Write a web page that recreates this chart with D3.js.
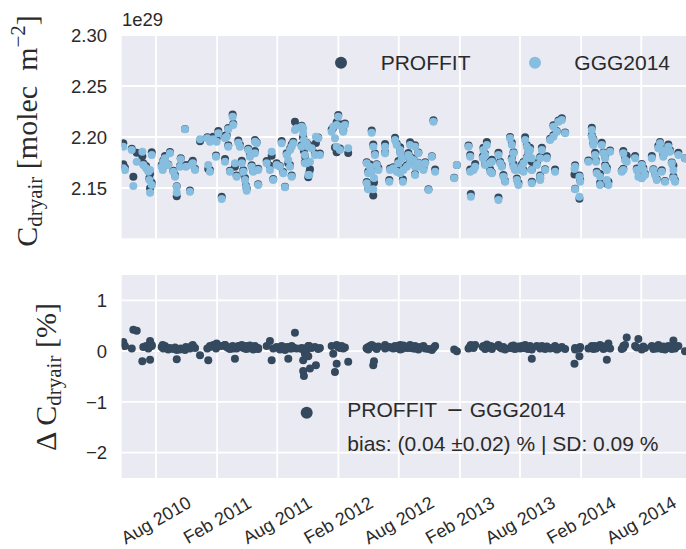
<!DOCTYPE html>
<html><head><meta charset="utf-8">
<script src="https://cdn.jsdelivr.net/npm/d3@7"></script>
<style>body{margin:0;background:#fff}svg{display:block}text{white-space:pre}</style>
</head><body>
<svg id="c" width="686" height="549"></svg>
<script>
// observation time (decimal year)
const obsYear = [2010.311,2010.311,2010.325,2010.381,2010.394,2010.422,2010.468,2010.476,2010.499,2010.518,2010.532,2010.526,2010.546,2010.532,2010.546,2010.628,2010.641,2010.655,2010.696,2010.682,2010.636,2010.724,2010.738,2010.752,2010.752,2010.785,2010.779,2010.820,2010.861,2010.828,2010.875,2010.903,2010.884,2010.944,2011.004,2011.026,2011.012,2011.026,2011.053,2011.081,2011.095,2011.076,2011.123,2011.150,2011.164,2011.177,2011.213,2011.218,2011.150,2011.191,2011.177,2011.232,2011.246,2011.260,2011.274,2011.288,2011.301,2011.315,2011.323,2011.329,2011.342,2011.356,2011.370,2011.383,2011.397,2011.411,2011.397,2011.424,2011.424,2011.494,2011.521,2011.548,2011.535,2011.576,2011.603,2011.617,2011.630,2011.645,2011.659,2011.672,2011.686,2011.700,2011.713,2011.727,2011.741,2011.782,2011.795,2011.782,2011.809,2011.823,2011.837,2011.686,2011.700,2011.795,2011.801,2011.823,2011.837,2011.865,2011.851,2011.809,2011.892,2011.900,2011.933,2011.919,2011.845,2012.030,2012.043,2012.071,2012.084,2012.057,2012.112,2012.125,2012.139,2012.071,2012.098,2012.166,2012.359,2012.318,2012.331,2012.345,2012.359,2012.318,2012.331,2012.372,2012.372,2012.386,2012.400,2012.414,2012.378,2012.469,2012.469,2012.504,2012.551,2012.565,2012.593,2012.607,2012.593,2012.579,2012.510,2012.537,2012.565,2012.593,2012.620,2012.648,2012.675,2012.702,2012.615,2012.675,2012.716,2012.743,2012.661,2012.675,2012.716,2012.716,2012.743,2012.757,2012.799,2012.785,2012.826,2012.854,2012.867,2012.881,2013.038,2013.060,2013.156,2013.170,2013.170,2013.197,2013.211,2013.175,2013.279,2013.293,2013.307,2013.274,2013.293,2013.349,2013.335,2013.403,2013.335,2013.349,2013.403,2013.417,2013.431,2013.444,2013.458,2013.499,2013.513,2013.527,2013.513,2013.527,2013.541,2013.555,2013.568,2013.582,2013.596,2013.609,2013.623,2013.637,2013.650,2013.664,2013.678,2013.637,2013.609,2013.678,2013.678,2013.720,2013.747,2013.747,2013.761,2013.747,2013.788,2013.802,2013.829,2013.856,2013.884,2013.856,2013.898,2013.926,2013.953,2013.870,2014.035,2014.030,2014.071,2014.077,2014.035,2014.071,2014.145,2014.173,2014.173,2014.186,2014.186,2014.200,2014.208,2014.214,2014.241,2014.241,2014.255,2014.269,2014.283,2014.283,2014.297,2014.297,2014.310,2014.324,2014.433,2014.447,2014.461,2014.433,2014.420,2014.530,2014.544,2014.557,2014.585,2014.598,2014.585,2014.612,2014.668,2014.681,2014.695,2014.709,2014.722,2014.736,2014.750,2014.763,2014.777,2014.750,2014.777,2014.804,2014.818,2014.833,2014.846,2014.846,2014.860,2014.887,2014.942];
// GGG2014 dry-air column (x 1e29 molec m^-2)
const ggg2014 = [2.1905,2.1693,2.1676,2.1873,2.1520,2.1758,2.1856,2.1725,2.1693,2.1660,2.1676,2.1578,2.1529,2.1454,2.1824,2.1709,2.1758,2.1791,2.1840,2.1725,2.1676,2.1660,2.1611,2.1513,2.1454,2.1781,2.1709,2.2075,2.1464,2.1709,2.1725,2.1676,2.1742,2.1977,2.1987,2.1954,2.1725,2.1660,2.1977,2.1954,2.2036,2.1807,2.1392,2.1987,2.2003,2.2075,2.2199,2.2118,2.1758,2.1660,2.1905,2.1742,2.1611,2.1944,2.1905,2.1742,2.1660,2.1578,2.1513,2.1474,2.1873,2.1807,2.1709,2.1660,2.1954,2.1938,2.1840,2.1676,2.1529,2.1742,2.1676,2.1578,2.1856,2.1725,2.1709,2.1938,2.1644,2.1507,2.1824,2.1775,2.1873,2.1905,2.1938,2.2069,2.2085,2.2101,2.2036,2.1905,2.1824,2.1742,2.1627,2.1709,2.1611,2.2085,2.1971,2.1938,2.1905,2.1889,2.1758,2.1742,2.1824,2.2003,2.1824,2.1987,2.1627,2.2052,2.2101,2.2118,2.2199,2.1987,2.2101,2.2052,2.2118,2.1905,2.1873,2.1889,2.2042,2.1742,2.1644,2.1709,2.1660,2.1546,2.1487,2.1487,2.1905,2.1824,2.1725,2.1676,2.1598,2.1905,2.1840,2.1562,2.1971,2.1922,2.1873,2.1791,2.1840,2.1742,2.1676,2.1693,2.1660,2.1644,2.1676,2.1709,2.1742,2.1775,2.1562,2.1922,2.1905,2.1840,2.1824,2.1791,2.1709,2.1627,2.1742,2.1709,2.1742,2.1676,2.1480,2.1807,2.2150,2.1660,2.1595,2.1725,2.1905,2.1807,2.1660,2.1676,2.1709,2.1415,2.1873,2.1824,2.1922,2.1791,2.1725,2.1758,2.1660,2.1382,2.1745,2.1644,2.1824,2.1742,2.1709,2.1611,2.1562,2.1987,2.1922,2.1840,2.1775,2.1709,2.1676,2.1578,2.1529,2.1676,2.1709,2.1742,2.1971,2.1905,2.1840,2.1873,2.1791,2.1791,2.1660,2.1676,2.1546,2.1725,2.1611,2.1578,2.1873,2.1791,2.1676,2.1791,2.1971,2.2003,2.2052,2.2101,2.2150,2.2167,2.2036,2.1660,2.1709,2.1686,2.1611,2.1562,2.1487,2.1415,2.1758,2.2069,2.2003,2.1971,2.1922,2.1824,2.1758,2.1644,2.1611,2.1529,2.1922,2.1840,2.1791,2.1709,2.1676,2.1578,2.1529,2.1856,2.1840,2.1775,2.1758,2.1676,2.1660,2.1791,2.1676,2.1611,2.1725,2.1676,2.1595,2.1627,2.1791,2.1676,2.1627,2.1578,2.1889,2.1938,2.1873,2.1807,2.1840,2.1660,2.1562,2.1905,2.1856,2.1742,2.1676,2.1595,2.1562,2.1824,2.1791];
// relative difference PROFFIT - GGG2014 (%)
const diffPct = [0.15,0.18,0.10,0.05,0.42,0.40,-0.20,0.08,0.10,0.05,-0.17,0.08,0.10,0.20,0.12,0.08,0.05,0.10,0.06,0.03,0.12,0.04,0.07,0.02,-0.16,0.05,0.03,0.02,0.05,0.08,0.10,0.06,0.12,-0.08,0.05,0.10,-0.18,0.08,0.12,0.15,0.10,0.05,0.10,0.12,0.08,0.06,0.10,0.05,0.12,0.04,0.07,-0.15,0.05,0.10,0.08,0.12,0.06,0.09,0.04,0.10,0.05,0.11,0.07,0.03,0.08,0.05,0.10,0.06,0.04,0.10,0.20,0.05,-0.18,0.08,0.03,0.10,0.06,0.02,0.08,-0.15,0.05,0.10,0.07,0.36,0.05,0.04,-0.18,0.06,-0.05,0.02,-0.10,0.08,0.05,-0.39,-0.49,0.03,0.10,0.06,-0.34,0.05,0.08,-0.28,0.06,0.04,0.10,0.10,-0.05,0.12,0.08,-0.41,0.10,0.05,0.07,-0.25,0.06,-0.21,0.10,0.05,0.08,0.10,0.12,0.06,0.03,-0.28,0.10,0.07,0.04,0.09,-0.20,0.12,0.05,0.08,0.10,0.06,0.12,0.04,0.08,0.10,0.07,0.05,0.09,0.03,0.11,0.06,0.08,0.05,0.10,0.12,0.07,0.04,0.09,0.06,0.10,0.05,0.03,0.08,0.05,0.10,0.04,0.02,0.06,0.10,0.03,0.00,0.05,0.08,0.10,0.06,0.12,0.12,0.10,0.05,0.13,0.08,0.04,0.09,0.10,0.12,0.06,0.04,0.10,0.07,0.05,0.08,0.03,0.06,0.10,0.05,0.08,0.11,0.04,0.07,0.09,0.05,0.10,0.06,0.12,0.08,0.04,0.10,-0.15,0.05,0.08,0.03,0.07,0.10,0.05,0.08,0.10,0.06,0.04,0.09,0.05,0.07,0.03,0.06,0.05,0.08,0.04,0.10,0.06,-0.25,0.05,0.08,0.03,-0.10,0.05,0.10,0.06,0.04,0.08,0.10,0.05,0.07,0.12,0.09,0.10,0.04,0.06,0.08,0.10,-0.17,0.15,0.05,0.10,0.12,0.27,0.06,0.04,0.10,0.07,0.24,0.05,0.09,0.03,0.06,0.10,0.04,0.08,0.05,0.12,0.06,0.04,0.09,0.05,0.07,0.03,0.10,0.06,0.04,0.21,0.08,0.05,0.10,0.00];
const proffit = ggg2014.map((v, i) => v * (1 + diffPct[i] / 100));

const xTickDates = ["2010-08-01","2011-02-01","2011-08-01","2012-02-01","2012-08-01","2013-02-01","2013-08-01","2014-02-01","2014-08-01"];
const xTickLabels = ["Aug 2010","Feb 2011","Aug 2011","Feb 2012","Aug 2012","Feb 2013","Aug 2013","Feb 2014","Aug 2014"];
const topTicks = [2.15, 2.20, 2.25, 2.30];
const topTickLabels = ["2.15", "2.20", "2.25", "2.30"];
const bottomTicks = [-2, -1, 0, 1];
const bottomTickLabels = ["\u22122", "\u22121", "0", "1"];
const seriesNames = ["PROFFIT", "GGG2014"];

const DARK = "#34495e", LIGHT = "#87bddf", TXT = "#2a2a2a", BG = "#eaeaf2";
const SANS = "'Liberation Sans', Arial, sans-serif";
const SERIF = "'Liberation Serif', 'Times New Roman', serif";

function yearToDate(y) {
  const yr = Math.floor(y);
  const s = Date.UTC(yr, 0, 1), e = Date.UTC(yr + 1, 0, 1);
  return new Date(s + (y - yr) * (e - s));
}
const tickDates = xTickDates.map(s => new Date(s + "T00:00:00Z"));

const L = 121.7, R = 686;
const x = d3.scaleUtc().domain([yearToDate(2010.298), yearToDate(2014.950)]).range([L, R]);
const topY = d3.scaleLinear().domain([2.1007, 2.30]).range([238.3, 35]);
const botY = d3.scaleLinear().domain([-2.5, 1.5]).range([478, 275]);

const svg = d3.select("#c");

function panel(yScale, ticks, labels, id) {
  const [y0, y1] = yScale.range();
  const g = svg.append("g");
  g.append("rect").attr("x", L).attr("y", y1).attr("width", R - L).attr("height", y0 - y1).attr("fill", BG);
  svg.append("clipPath").attr("id", id).append("rect").attr("x", L).attr("y", y1).attr("width", R - L).attr("height", y0 - y1);
  g.selectAll(".hg").data(ticks).join("line")
    .attr("x1", L).attr("x2", R).attr("y1", d => yScale(d)).attr("y2", d => yScale(d))
    .attr("stroke", "#fff").attr("stroke-width", 1.8);
  g.selectAll(".vg").data(tickDates).join("line")
    .attr("x1", d => x(d)).attr("x2", d => x(d)).attr("y1", y1).attr("y2", y0)
    .attr("stroke", "#fff").attr("stroke-width", 1.8);
  g.selectAll(".yt").data(ticks).join("text")
    .attr("x", 107).attr("y", d => yScale(d)).attr("dy", "0.36em")
    .attr("text-anchor", "end").attr("font-family", SANS).attr("font-size", 18.5).attr("fill", TXT)
    .text((d, i) => labels[i]);
  return g.append("g").attr("clip-path", `url(#${id})`);
}

const topG = panel(topY, topTicks, topTickLabels, "clipTop");
const botG = panel(botY, bottomTicks, bottomTickLabels, "clipBot");

topG.selectAll(".p").data(proffit).join("circle")
  .attr("cx", (d, i) => x(yearToDate(obsYear[i]))).attr("cy", d => topY(d)).attr("r", 4).attr("fill", DARK);
topG.selectAll(".g").data(ggg2014).join("circle")
  .attr("cx", (d, i) => x(yearToDate(obsYear[i]))).attr("cy", d => topY(d)).attr("r", 4).attr("fill", LIGHT);
botG.selectAll(".d").data(diffPct).join("circle")
  .attr("cx", (d, i) => x(yearToDate(obsYear[i]))).attr("cy", d => botY(d)).attr("r", 4).attr("fill", DARK);

svg.selectAll(".xt").data(tickDates).join("text")
  .attr("transform", d => `translate(${x(d)},520) rotate(-30)`)
  .attr("text-anchor", "middle").attr("dy", "0.35em")
  .attr("font-family", SANS).attr("font-size", 18).attr("fill", TXT)
  .text((d, i) => xTickLabels[i]);

svg.append("text").attr("x", 122).attr("y", 26).attr("font-family", SANS).attr("font-size", 18.5).attr("fill", TXT).text("1e29");

const yl1 = svg.append("text").attr("transform", "translate(37,131) rotate(-90)")
  .attr("text-anchor", "middle").attr("font-family", SERIF).attr("font-size", 30).attr("fill", TXT);
yl1.append("tspan").text("C");
yl1.append("tspan").attr("dy", 5).attr("font-size", 21).text("dryair");
yl1.append("tspan").attr("dy", -5).text(" [molec  m");
yl1.append("tspan").attr("dy", -12).attr("font-size", 21).text("\u22122");
yl1.append("tspan").attr("dy", 12).text("]");

const yl2 = svg.append("text").attr("transform", "translate(56,377) rotate(-90)")
  .attr("text-anchor", "middle").attr("font-family", SERIF).attr("font-size", 30).attr("fill", TXT);
yl2.append("tspan").text("\u0394 C");
yl2.append("tspan").attr("dy", 5).attr("font-size", 21).text("dryair");
yl2.append("tspan").attr("dy", -5).text(" [%]");

const legItems = [{c: DARK, cx: 341, tx: 380.7}, {c: LIGHT, cx: 535, tx: 574.3}];
legItems.forEach((it, i) => {
  svg.append("circle").attr("cx", it.cx).attr("cy", 62.7).attr("r", 6).attr("fill", it.c);
  svg.append("text").attr("x", it.tx).attr("y", 69.5).attr("font-family", SANS).attr("font-size", 21).attr("fill", TXT).text(seriesNames[i]);
});

svg.append("circle").attr("cx", 306.7).attr("cy", 412.7).attr("r", 6).attr("fill", DARK);
const bl = svg.append("text").attr("x", 347.3).attr("y", 417).attr("font-family", SANS).attr("font-size", 21).attr("fill", TXT);
bl.append("tspan").text(seriesNames[0]);
bl.append("tspan").attr("dx", 9).attr("font-family", "'DejaVu Sans', sans-serif").text("\u2212");
bl.append("tspan").attr("dx", 6).text(seriesNames[1]);
svg.append("text").attr("x", 347.3).attr("y", 451).attr("font-family", SANS).attr("font-size", 21).attr("fill", TXT)
  .text("bias: (0.04 \u00b10.02) % | SD: 0.09 %");
</script>
</body></html>
